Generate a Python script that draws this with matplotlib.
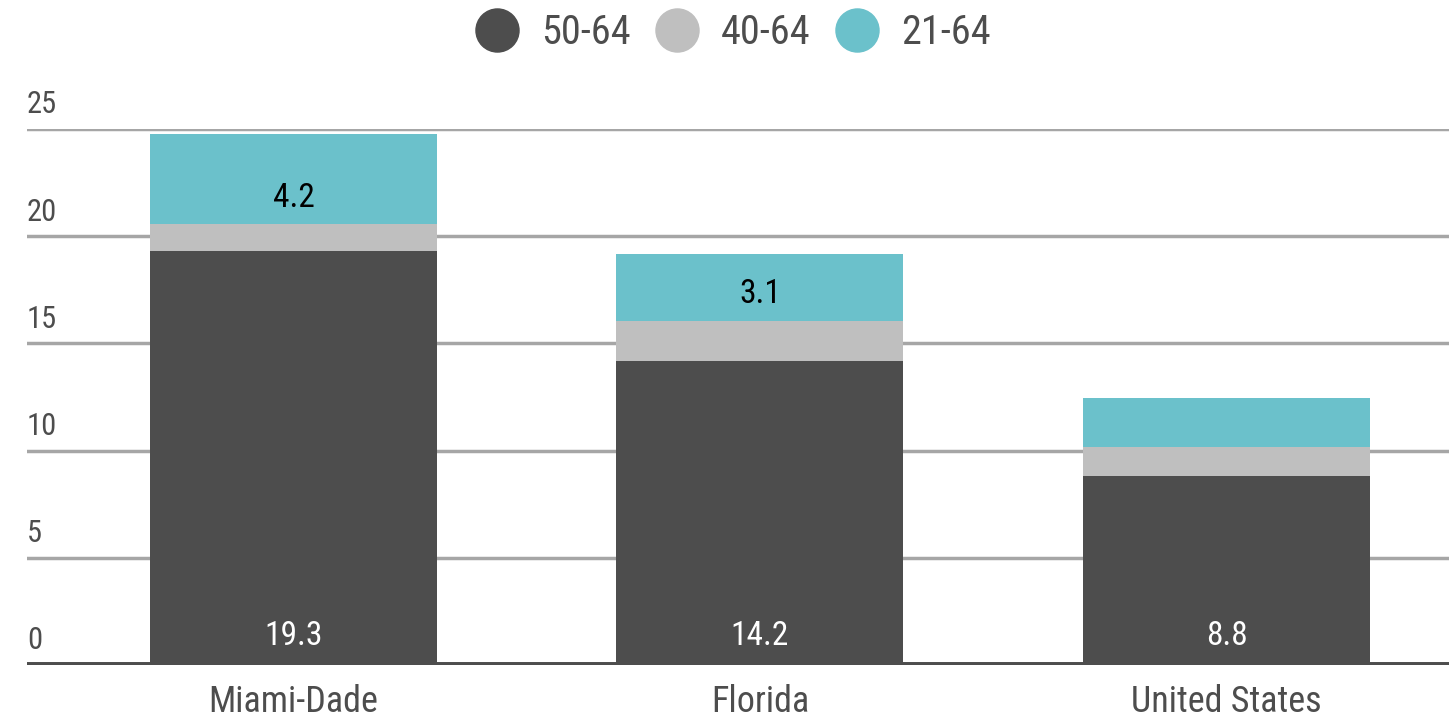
import matplotlib
matplotlib.use('Agg')
import matplotlib.pyplot as plt
from matplotlib import font_manager
from matplotlib.lines import Line2D
import numpy as np

# data
categories = ['Miami-Dade', 'Florida', 'United States']
series_names = ['50-64', '40-64', '21-64']
s50_64 = [19.3, 14.2, 8.8]
s40_64 = [1.25, 1.85, 1.35]
s21_64 = [4.2, 3.1, 2.3]
yticks = [0, 5, 10, 15, 20, 25]

colors = ['#4d4d4d', '#bfbfbf', '#6bc1cb']

names = {f.name for f in font_manager.fontManager.ttflist}
font = 'DejaVu Sans'
for cand in ['Liberation Sans Narrow', 'DejaVu Sans Condensed', 'Roboto Condensed']:
    if cand in names:
        font = cand
        break
plt.rcParams['font.family'] = font
if font == 'DejaVu Sans':
    plt.rcParams['font.stretch'] = 'condensed'

fig = plt.figure(figsize=(14.49, 7.21), dpi=100)
ax = fig.add_axes([27/1449, 1 - 665/721, 1 - 27/1449, (665 - 129)/721 * 1.0])

x = np.arange(len(categories))
w = 0.615
b1 = np.array(s50_64)
b2 = b1 + np.array(s40_64)
ax.bar(x, s50_64, w, color=colors[0], zorder=3)
ax.bar(x, s40_64, w, bottom=b1, color=colors[1], zorder=3)
ax.bar(x, s21_64, w, bottom=b2, color=colors[2], zorder=3)

ax.set_xlim(-0.571, 2.477)
ax.set_ylim(0, 25)

for t in yticks[1:]:
    ax.axhline(t, color='#a6a6a6', lw=2.5, zorder=1)
ax.axhline(0, color='#4d4d4d', lw=5, zorder=4)

for t in yticks:
    ax.text(0, t + 0.45, str(t), transform=ax.get_yaxis_transform(),
            ha='left', va='bottom', fontsize=22, color='#4d4d4d')

# labels
for i in range(len(categories)):
    ax.text(x[i], 0.6, '%.1f' % s50_64[i], ha='center', va='bottom',
            fontsize=24, color='white', zorder=5)
    if i < 2:
        ax.text(x[i], b2[i] + 0.5, '%.1f' % s21_64[i],
                ha='center', va='bottom', fontsize=24, color='black', zorder=5)

ax.set_xticks(x)
ax.set_xticklabels(categories, fontsize=26, color='#4d4d4d')
ax.tick_params(axis='x', length=0, pad=14)
ax.set_yticks([])
for s in ax.spines.values():
    s.set_visible(False)

handles = [Line2D([], [], marker='o', ls='', markersize=31, color=c) for c in colors]
fig.legend(handles, series_names, loc='center', bbox_to_anchor=(0.505, 1 - 33/721),
           ncol=3, frameon=False, fontsize=29, labelcolor='#4d4d4d',
           handletextpad=0.5, columnspacing=0.55, handlelength=1.2)

plt.savefig('out.png', dpi=100)
